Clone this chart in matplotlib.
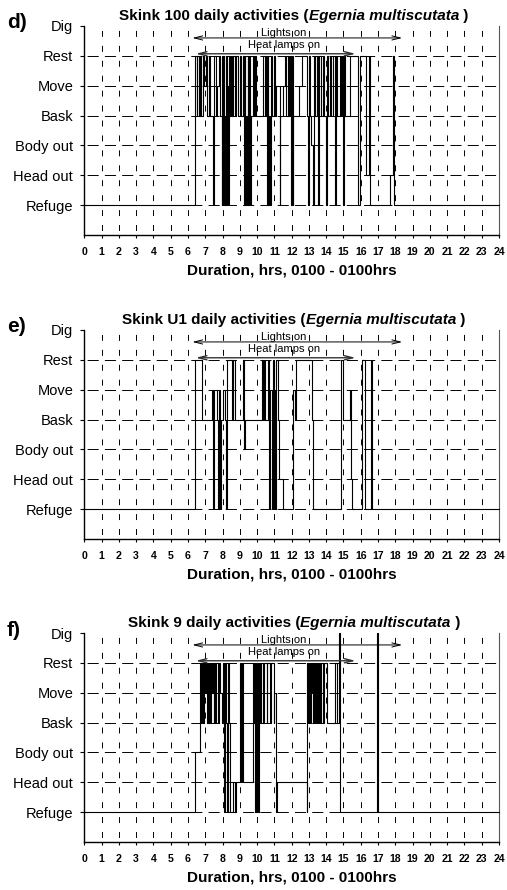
import matplotlib.pyplot as plt

plt.rcParams['font.family'] = 'Liberation Sans'
plt.rcParams['lines.scale_dashes'] = False

# behaviour codes, bottom to top
states = ['Refuge', 'Head out', 'Body out', 'Bask', 'Move', 'Rest', 'Dig']
hours = list(range(25))

# Skink 100 : time of each change (hrs) and state entered (1 = Refuge ... 7 = Dig)
d_times = [0, 6.42, 6.5, 6.55, 6.62, 6.7, 6.78, 6.85, 6.95, 7.05,
           7.12, 7.2, 7.3, 7.47, 7.52, 7.62, 7.7, 7.78, 7.85, 7.95,
           7.98, 8.02, 8.05, 8.09, 8.13, 8.17, 8.2, 8.24, 8.28, 8.32,
           8.38, 8.43, 8.5, 8.56, 8.62, 8.7, 8.8, 8.9, 9.0, 9.08,
           9.2, 9.24, 9.28, 9.32, 9.36, 9.4, 9.45, 9.5, 9.55, 9.6,
           9.65, 9.75, 9.82, 9.9, 9.95, 10.37, 10.45, 10.52, 10.58, 10.62,
           10.66, 10.7, 10.75, 10.8, 10.88, 10.95, 11.05, 11.12, 11.3, 11.35,
           11.5, 11.62, 11.7, 11.76, 11.82, 11.88, 11.95, 12.0, 12.05, 12.1,
           12.4, 12.6, 12.9, 12.97, 13.02, 13.08, 13.12, 13.22, 13.28, 13.35,
           13.45, 13.55, 13.6, 13.7, 13.8, 13.9, 14.0, 14.06, 14.12, 14.2,
           14.3, 14.42, 14.5, 14.55, 14.65, 14.8, 14.86, 14.92, 14.97, 15.02,
           15.1, 15.37, 15.85, 15.95, 16.3, 16.5, 16.55, 17.7, 17.85, 17.9, 24]
d_states = [1, 6, 4, 6, 4, 6, 4, 6, 5, 6,
            4, 6, 4, 1, 6, 4, 5, 6, 4, 1,
            6, 1, 6, 1, 4, 1, 6, 1, 5, 1,
            6, 4, 6, 4, 6, 4, 6, 4, 6, 4,
            6, 1, 6, 1, 4, 1, 6, 1, 6, 1,
            4, 6, 4, 6, 4, 6, 4, 6, 1, 6,
            1, 4, 1, 6, 4, 6, 4, 5, 1, 4,
            5, 6, 4, 6, 4, 6, 1, 6, 1, 4,
            5, 6, 4, 1, 6, 4, 3, 1, 6, 4,
            6, 1, 6, 4, 6, 4, 1, 6, 4, 6,
            4, 6, 1, 6, 4, 6, 4, 6, 1, 6,
            4, 6, 1, 6, 2, 6, 1, 2, 6, 1, 1]

# Skink U1
e_times = [0, 6.41, 6.79, 7.37, 7.42, 7.5, 7.7, 7.75, 7.8, 7.85,
           7.9, 8.0, 8.14, 8.2, 8.25, 8.55, 8.6, 8.7, 9.2, 9.23,
           9.3, 10.27, 10.32, 10.38, 10.45, 10.62, 10.67, 10.72, 10.85, 10.9,
           10.96, 11.0, 11.05, 11.1, 11.2, 11.25, 11.5, 12.1, 12.17, 12.27,
           13.16, 13.22, 14.88, 14.96, 15.38, 15.43, 15.47, 16.1, 16.24, 16.6,
           16.66, 24]
e_states = [1, 6, 4, 5, 1, 5, 4, 1, 5, 1,
            4, 5, 4, 1, 6, 4, 6, 4, 6, 3,
            4, 6, 4, 6, 4, 6, 1, 5, 1, 6,
            1, 5, 1, 6, 4, 2, 1, 5, 4, 6,
            4, 1, 6, 4, 5, 2, 1, 6, 1, 6,
            1, 1]

# Skink 9
f_times = [0, 6.41, 6.7, 6.78, 6.83, 6.88, 6.93, 6.98, 7.03, 7.08,
           7.13, 7.18, 7.23, 7.28, 7.33, 7.38, 7.43, 7.48, 7.53, 7.58,
           7.65, 7.72, 7.8, 7.88, 7.95, 8.02, 8.1, 8.15, 8.22, 8.28,
           8.33, 8.4, 8.45, 8.6, 8.75, 8.8, 9.0, 9.05, 9.15, 9.2,
           9.78, 9.82, 9.86, 9.9, 9.94, 9.98, 10.02, 10.06, 10.1, 10.15,
           10.2, 10.35, 10.4, 10.55, 10.6, 10.75, 10.8, 10.95, 11.0, 11.1,
           11.15, 12.87, 12.9, 12.95, 13.0, 13.05, 13.1, 13.15, 13.2, 13.25,
           13.3, 13.35, 13.4, 13.45, 13.5, 13.55, 13.6, 13.65, 13.7, 13.8,
           13.9, 14.03, 14.5, 14.62, 14.72, 14.78, 16.95, 17.0, 24]
f_states = [1, 3, 6, 4, 6, 4, 6, 5, 6, 4,
            6, 4, 6, 4, 6, 5, 6, 4, 6, 4,
            6, 4, 6, 5, 4, 6, 1, 6, 4, 1,
            6, 4, 1, 2, 1, 2, 6, 2, 6, 2,
            6, 4, 6, 1, 6, 1, 6, 1, 6, 4,
            6, 4, 6, 4, 6, 4, 6, 4, 5, 1,
            2, 1, 6, 4, 6, 4, 6, 5, 6, 4,
            6, 4, 6, 4, 6, 4, 6, 4, 6, 4,
            6, 4, 6, 4, 7, 1, 7, 1, 1]

skinks = ['100', 'U1', '9']
letters = ['d)', 'e)', 'f)']
lights_on = [6.25, 18.4]
heat_on = [6.45, 15.7]

all_times = [d_times, e_times, f_times]
all_states = [d_states, e_states, f_states]

fig = plt.figure(figsize=(5.07, 8.9), dpi=100)
renderer = fig.canvas.get_renderer()

W, H = 507.0, 890.0
ax_left, ax_w = 84.3, 414.7   # plot area in pixels
tops = [26, 330, 633]         # top of each plot area in pixels
plot_h = 209.0

for i in range(3):
    top = tops[i]
    ax = fig.add_axes([ax_left / W, 1 - (top + plot_h) / H, ax_w / W, plot_h / H])

    # dashed grid
    for y in range(1, 7):
        ax.plot([0, 24], [y, y], color='black', lw=0.7, ls=(10.2, (8, 4.44)), zorder=1)
    for x in range(1, 24):
        ax.plot([x, x], [0, 7], color='black', lw=0.7, ls=(7.5, (4.3, 6.45)), zorder=1)

    ax.step(all_times[i], all_states[i], where='post', color='black', lw=0.8,
            zorder=3, clip_on=False)

    # lights / heat lamps arrows
    ax.annotate('', xy=(lights_on[1], 6.6), xytext=(lights_on[0], 6.6),
                arrowprops=dict(arrowstyle='<->,head_length=0.6,head_width=0.15',
                                color='black', lw=0.7, shrinkA=0, shrinkB=0))
    ax.annotate('', xy=(heat_on[1], 6.07), xytext=(heat_on[0], 6.07),
                arrowprops=dict(arrowstyle='<->,head_length=0.6,head_width=0.15',
                                color='#333333', lw=1.0, shrinkA=0, shrinkB=0))
    ax.text(11.55, 6.78, 'Lights on', ha='center', va='center', fontsize=8)
    ax.text(11.55, 6.35, 'Heat lamps on', ha='center', va='center', fontsize=8)

    ax.set_xlim(0, 24)
    ax.set_ylim(0, 7)
    ax.set_xticks(hours)
    ax.set_xticklabels([str(h) for h in hours], fontweight='bold', fontsize=7.6)
    ax.set_yticks(range(1, 8))
    ax.set_yticklabels(states, fontsize=10.5)
    ax.tick_params(axis='y', direction='out', length=3, width=0.8, pad=5)
    ax.tick_params(axis='x', direction='out', length=2.5, width=0.8, pad=6)
    ax.set_xlabel('Duration, hrs, 0100 - 0100hrs', fontweight='bold', fontsize=11,
                  labelpad=5)

    ax.spines['top'].set_visible(False)
    ax.spines['right'].set_color('#555555')
    ax.spines['right'].set_linewidth(0.8)
    ax.spines['left'].set_linewidth(1.0)
    ax.spines['bottom'].set_linewidth(1.0)

    # title with italic species name, centred as a whole
    t1 = ax.text(0.086, 1.028, 'Skink ' + skinks[i] + ' daily activities (',
                 transform=ax.transAxes, fontweight='bold', fontsize=11, va='baseline')
    t2 = ax.annotate('Egernia multiscutata', xy=(1, 0), xycoords=t1, va='bottom',
                     fontweight='bold', fontstyle='italic', fontsize=11)
    t3 = ax.annotate(' )', xy=(1, 0), xycoords=t2, va='bottom', fontweight='bold',
                     fontsize=11)
    fig.canvas.draw()
    x0 = t1.get_window_extent(renderer).x0
    x1 = t3.get_window_extent(renderer).x1
    start = 294 - (x1 - x0) / 2
    t1.set_x((start - ax_left) / ax_w)

    fig.text(7 / W, 1 - (top - 3) / H, letters[i], fontweight='bold', fontsize=15,
             ha='left', va='center')

plt.savefig('out.png', dpi=100)
